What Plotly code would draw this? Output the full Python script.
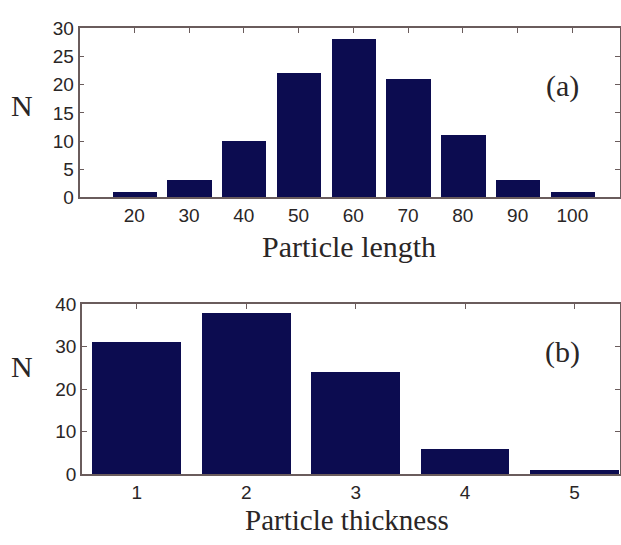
import plotly.graph_objects as go

# Data
length_categories = [20, 30, 40, 50, 60, 70, 80, 90, 100]
length_counts = [1, 3, 10, 22, 28, 21, 11, 3, 1]
thickness_categories = [1, 2, 3, 4, 5]
thickness_counts = [31, 38, 24, 6, 1]
length_yticks = [0, 5, 10, 15, 20, 25, 30]
thickness_yticks = [0, 10, 20, 30, 40]

W, H = 621, 545
BAR = "#0c0c50"
AX = "#6a5c5c"
TICKFONT = dict(family="Liberation Sans, Arial, sans-serif", size=19, color="#2a2626")
SERIF = "Liberation Serif, Times New Roman, serif"


def px(x):
    return x / W


def py(y):
    return 1 - y / H


fig = go.Figure()
fig.add_trace(go.Bar(x=length_categories, y=length_counts, width=8.1,
                     marker=dict(color=BAR, line=dict(width=0)),
                     xaxis="x", yaxis="y", showlegend=False))
fig.add_trace(go.Bar(x=thickness_categories, y=thickness_counts, width=0.81,
                     marker=dict(color=BAR, line=dict(width=0)),
                     xaxis="x2", yaxis="y2", showlegend=False))

common_axis = dict(showline=True, linecolor=AX, linewidth=1.5, mirror="ticks",
                   ticks="inside", ticklen=5, tickcolor=AX, tickwidth=1,
                   showgrid=False, zeroline=False, tickfont=TICKFONT,
                   layer="below traces")

fig.update_layout(
    width=W, height=H,
    margin=dict(l=0, r=0, t=0, b=0),
    paper_bgcolor="white", plot_bgcolor="white",
    bargap=0,
    xaxis=dict(common_axis, domain=[px(79.5), px(619.5)], range=[10, 108.6],
               tickvals=length_categories, anchor="y"),
    yaxis=dict(common_axis, domain=[py(195), py(19)], range=[0, 30],
               tickvals=length_yticks, anchor="x"),
    xaxis2=dict(common_axis, domain=[px(82), px(619.5)], range=[0.5, 5.41],
                tickvals=thickness_categories, anchor="y2"),
    yaxis2=dict(common_axis, domain=[py(483), py(306)], range=[0, 40],
                tickvals=thickness_yticks, anchor="x2"),
)

annotations = [
    dict(text="Particle length", x=px(349), y=py(246), size=30),
    dict(text="Particle thickness", x=px(347), y=py(530), size=29),
    dict(text="N", x=px(22), y=py(99), size=30),
    dict(text="N", x=px(22), y=py(371), size=30),
    dict(text="(a)", x=px(562), y=py(79), size=30),
    dict(text="(b)", x=px(562), y=py(356), size=30),
]
for a in annotations:
    fig.add_annotation(text=a["text"], x=a["x"], y=a["y"], xref="paper", yref="paper",
                       xanchor="center", yanchor="middle", showarrow=False,
                       font=dict(family=SERIF, size=a["size"], color="#2a2626"))

fig.write_html("out.html", config={"displayModeBar": False},
               post_script="document.body.style.margin='0';document.body.style.overflow='hidden';")
